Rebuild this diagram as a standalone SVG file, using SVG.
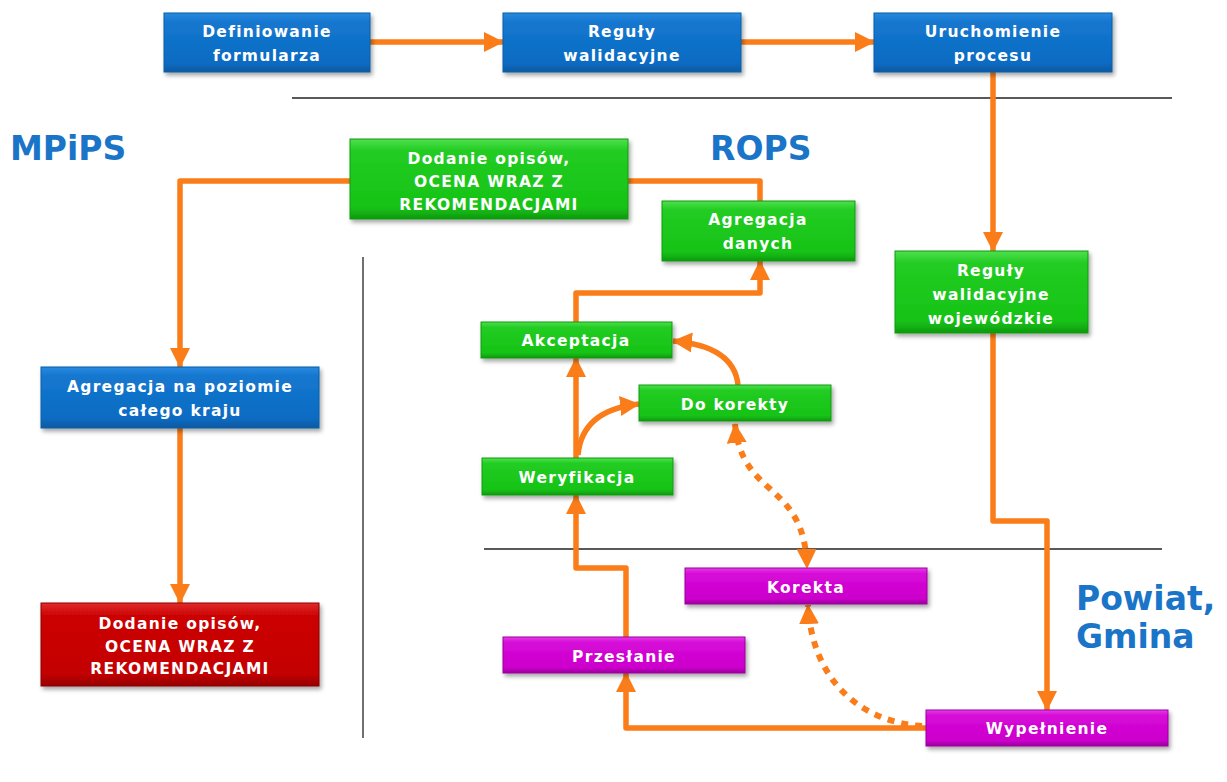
<svg xmlns="http://www.w3.org/2000/svg" width="1227" height="782" viewBox="0 0 1227 782">
<defs>
<linearGradient id="gBlue" x1="0" y1="0" x2="0" y2="1"><stop offset="0" stop-color="#2a8ae0"/><stop offset="0.15" stop-color="#1577cf"/><stop offset="0.85" stop-color="#0a6bc2"/><stop offset="1" stop-color="#07589f"/></linearGradient>
<linearGradient id="gGreen" x1="0" y1="0" x2="0" y2="1"><stop offset="0" stop-color="#4ee04e"/><stop offset="0.15" stop-color="#22cc22"/><stop offset="0.85" stop-color="#16c316"/><stop offset="1" stop-color="#0f9a0f"/></linearGradient>
<linearGradient id="gMag" x1="0" y1="0" x2="0" y2="1"><stop offset="0" stop-color="#e63ee8"/><stop offset="0.15" stop-color="#d60ad8"/><stop offset="0.85" stop-color="#cc00cc"/><stop offset="1" stop-color="#9a009c"/></linearGradient>
<linearGradient id="gRed" x1="0" y1="0" x2="0" y2="1"><stop offset="0" stop-color="#e02a2a"/><stop offset="0.15" stop-color="#cc0404"/><stop offset="0.85" stop-color="#c40000"/><stop offset="1" stop-color="#960000"/></linearGradient>
<filter id="sh" x="-10%" y="-20%" width="130%" height="160%"><feDropShadow dx="2" dy="3" stdDeviation="2" flood-color="#000" flood-opacity="0.35"/></filter>
<marker id="ah" markerUnits="userSpaceOnUse" markerWidth="22" markerHeight="22" refX="19" refY="10" orient="auto-start-reverse"><path d="M0,0 L20,10 L0,20 z" fill="#fa7d19"/></marker>
</defs>
<style>
.box{stroke-width:1;filter:url(#sh)}
.blue{fill:url(#gBlue);stroke:#0a5ea8}
.green{fill:url(#gGreen);stroke:#0f9a0f}
.mag{fill:url(#gMag);stroke:#9a009c}
.red{fill:url(#gRed);stroke:#8a0000}
.t{font-family:"DejaVu Sans",Verdana,sans-serif;font-weight:bold;font-size:15.5px;letter-spacing:1.3px;fill:#fff;text-anchor:middle}
.lbl{font-family:"DejaVu Sans",Verdana,sans-serif;font-weight:bold;font-size:33px;fill:#1a74c8}
.c{fill:none;stroke:#fa7d19;stroke-width:5.5;stroke-linejoin:round}
.d{fill:none;stroke:#fa7d19;stroke-width:6;stroke-dasharray:7 7}
.sep{stroke:#222;stroke-width:1.3}
</style>

<g id="separators">
<line class="sep" x1="292" y1="98" x2="1172" y2="98"/>
<line class="sep" x1="484" y1="549" x2="1162" y2="549"/>
<line class="sep" x1="363" y1="257" x2="363" y2="738"/>
</g>

<g id="labels">
<text class="lbl" x="10" y="160">MPiPS</text>
<text class="lbl" x="710" y="160">ROPS</text>
<text class="lbl" x="1076" y="610">Powiat,</text>
<text class="lbl" x="1076" y="648">Gmina</text>
</g>

<g id="connectors">
<path class="c" d="M370 42 H503" marker-end="url(#ah)"/>
<path class="c" d="M741 42 H874" marker-end="url(#ah)"/>
<path class="c" d="M993 72 V251" marker-end="url(#ah)"/>
<path class="c" d="M993 333 V521 H1047 V710" marker-end="url(#ah)"/>
<path class="c" d="M926 728 H626 V673" marker-end="url(#ah)"/>
<path class="c" d="M626 637 V568 H576 V495" marker-end="url(#ah)"/>
<path class="c" d="M576 458 V358" marker-end="url(#ah)"/>
<path class="c" d="M578 455 Q582 410 639 404" marker-end="url(#ah)"/>
<path class="c" d="M738 385 Q734 346 673 341" marker-end="url(#ah)"/>
<path class="c" d="M576 322 V293 H760 V261" marker-end="url(#ah)"/>
<path class="c" d="M760 201 V181 H628"/>
<path class="c" d="M350 181 H180 V367" marker-end="url(#ah)"/>
<path class="c" d="M180 428 V603" marker-end="url(#ah)"/>
<path class="d" d="M735 424 C742 500 805 480 807 568" marker-start="url(#ah)" marker-end="url(#ah)"/>
<path class="d" d="M922 726 C860 722 812 680 808 605" marker-end="url(#ah)"/>
</g>

<g id="n-definiowanie"><rect class="box blue" x="164" y="13" width="206" height="59"/><text class="t" x="267" y="37">Definiowanie</text><text class="t" x="267" y="61">formularza</text></g>
<g id="n-reguly"><rect class="box blue" x="503" y="13" width="238" height="59"/><text class="t" x="622" y="37">Reguły</text><text class="t" x="622" y="61">walidacyjne</text></g>
<g id="n-uruchomienie"><rect class="box blue" x="874" y="13" width="238" height="59"/><text class="t" x="993" y="37">Uruchomienie</text><text class="t" x="993" y="61">procesu</text></g>
<g id="n-dodanie-rops"><rect class="box green" x="350" y="139" width="278" height="80"/><text class="t" x="489" y="164">Dodanie opisów,</text><text class="t" x="489" y="187">OCENA WRAZ Z</text><text class="t" x="489" y="210">REKOMENDACJAMI</text></g>
<g id="n-agregacja-danych"><rect class="box green" x="662" y="201" width="193" height="60"/><text class="t" x="758" y="225">Agregacja</text><text class="t" x="758" y="249">danych</text></g>
<g id="n-reguly-woj"><rect class="box green" x="895" y="251" width="193" height="82"/><text class="t" x="991" y="276">Reguły</text><text class="t" x="991" y="300">walidacyjne</text><text class="t" x="991" y="324">wojewódzkie</text></g>
<g id="n-agregacja-kraj"><rect class="box blue" x="41" y="367" width="278" height="61"/><text class="t" x="180" y="392">Agregacja na poziomie</text><text class="t" x="180" y="416">całego kraju</text></g>
<g id="n-dodanie-mpips"><rect class="box red" x="41" y="603" width="278" height="83"/><text class="t" x="180" y="629">Dodanie opisów,</text><text class="t" x="180" y="652">OCENA WRAZ Z</text><text class="t" x="180" y="674">REKOMENDACJAMI</text></g>
<g id="n-akceptacja"><rect class="box green" x="481" y="322" width="191" height="36"/><text class="t" x="576" y="346">Akceptacja</text></g>
<g id="n-do-korekty"><rect class="box green" x="639" y="385" width="192" height="36"/><text class="t" x="735" y="410">Do korekty</text></g>
<g id="n-weryfikacja"><rect class="box green" x="482" y="458" width="191" height="37"/><text class="t" x="577" y="483">Weryfikacja</text></g>
<g id="n-korekta"><rect class="box mag" x="685" y="568" width="242" height="36"/><text class="t" x="806" y="593">Korekta</text></g>
<g id="n-przeslanie"><rect class="box mag" x="503" y="637" width="242" height="36"/><text class="t" x="624" y="662">Przesłanie</text></g>
<g id="n-wypelnienie"><rect class="box mag" x="926" y="710" width="242" height="36"/><text class="t" x="1047" y="734">Wypełnienie</text></g>
</svg>
